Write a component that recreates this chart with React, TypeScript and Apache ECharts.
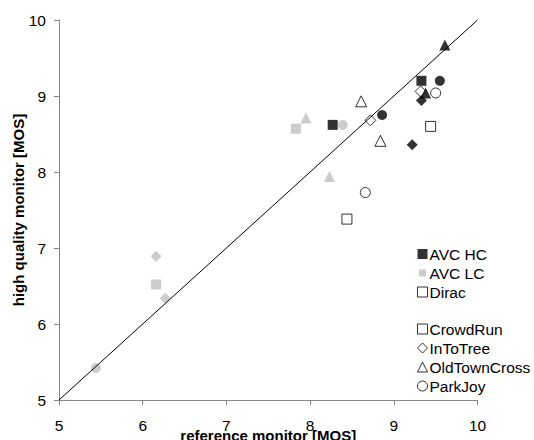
import React, { useEffect, useRef } from "react";
import * as echarts from "echarts";

const codecNames = ["AVC HC", "AVC LC", "Dirac"];
const sequenceNames = ["CrowdRun", "InToTree", "OldTownCross", "ParkJoy"];
const sequenceSymbols = ["rect", "diamond", "triangle", "circle"];

// sequence index of each point (two test points per sequence)
const pointSequence = [0, 0, 1, 1, 2, 2, 3, 3];

const avcHcX = [8.27, 9.33, 9.22, 9.33, 9.61, 9.38, 8.86, 9.55];
const avcHcY = [8.62, 9.2, 8.36, 8.94, 9.67, 9.04, 8.75, 9.2];

const avcLcX = [7.83, 6.16, 6.16, 6.27, 7.95, 8.23, 8.39, 5.44];
const avcLcY = [8.57, 6.52, 6.89, 6.34, 8.71, 7.94, 8.62, 5.42];

const diracX = [9.44, 8.44, 9.32, 8.72, 8.61, 8.84, 9.5, 8.66];
const diracY = [8.6, 7.38, 9.06, 8.68, 8.93, 8.41, 9.04, 7.73];

const diagonalX = [5, 10];
const diagonalY = [5, 10];

const FONT = "'Liberation Sans', Arial, sans-serif";

const codecStyles = [
  { color: "#000000", borderColor: "#000000", borderWidth: 0 },
  { color: "#BFBFBF", borderColor: "#BFBFBF", borderWidth: 0 },
  { color: "#FFFFFF", borderColor: "#000000", borderWidth: 1 },
];

// legend icons: the AVC LC key is drawn smaller, as in the source figure
const codecIcons = ["rect", "path://M0,0M10,10M1.5,1.5L8.5,1.5L8.5,8.5L1.5,8.5Z", "rect"];

const symbolSizes: Record<string, number> = {
  rect: 10,
  diamond: 11,
  triangle: 11,
  circle: 10,
};

function makePoints(xs: number[], ys: number[]) {
  return xs.map((x, i) => {
    const sym = sequenceSymbols[pointSequence[i]];
    return { value: [x, ys[i]], symbol: sym, symbolSize: symbolSizes[sym] };
  });
}

export default function App() {
  const ref = useRef<HTMLDivElement>(null);

  useEffect(() => {
    if (!ref.current) return;
    const chart = echarts.init(ref.current, null, { renderer: "svg" });
    const codecData = [
      makePoints(avcHcX, avcHcY),
      makePoints(avcLcX, avcLcY),
      makePoints(diracX, diracY),
    ];
    const drawOrder = [2, 1, 0];
    const codecSeries = drawOrder.map((ci, k) => ({
      type: "scatter",
      name: codecNames[ci],
      symbol: "rect",
      itemStyle: codecStyles[ci],
      data: codecData[ci],
      z: 2 + k,
      emphasis: { disabled: true },
    }));
    const seqSeries = sequenceNames.map((n, i) => ({
      type: "scatter",
      name: n,
      symbol: sequenceSymbols[i],
      itemStyle: { color: "#FFFFFF", borderColor: "#000000", borderWidth: 1 },
      data: [],
    }));
    const axisCommon = {
      type: "value",
      min: 5,
      max: 10,
      interval: 1,
      nameMoveOverlap: false,
      axisLine: { show: true, lineStyle: { color: "#868686", width: 1 } },
      axisTick: { show: true, inside: false, length: 5, lineStyle: { color: "#868686" } },
      splitLine: { show: false },
      nameTextStyle: { fontFamily: FONT, fontWeight: "bold", fontSize: 15, color: "#000" },
    };
    const legendText = {
      fontFamily: FONT,
      fontSize: 15.5,
      lineHeight: 16,
      color: "#000",
      padding: [0, 0, 0, -3],
    };
    chart.setOption({
      animation: false,
      backgroundColor: "#ffffff",
      grid: { left: 59, right: 56.5, top: 20, bottom: 40, outerBoundsMode: "none", containLabel: false },
      xAxis: {
        ...axisCommon,
        name: "reference monitor [MOS]",
        nameLocation: "middle",
        nameGap: 28,
        axisLabel: { fontFamily: FONT, fontSize: 15.5, color: "#000", margin: 17 },
      },
      yAxis: {
        ...axisCommon,
        name: "high quality monitor [MOS]",
        nameLocation: "middle",
        nameGap: 33,
        axisLabel: { fontFamily: FONT, fontSize: 15.5, color: "#000", margin: 13 },
      },
      legend: [
        {
          orient: "vertical",
          left: 417,
          top: 246,
          itemGap: 3,
          itemWidth: 10,
          itemHeight: 10,
          padding: 0,
          selectedMode: false,
          textStyle: legendText,
          data: codecNames.map((n, i) => ({
            name: n,
            icon: codecIcons[i],
            itemStyle: codecStyles[i],
          })),
        },
        {
          orient: "vertical",
          left: 417,
          top: 321,
          itemGap: 3,
          itemWidth: 10,
          itemHeight: 10,
          padding: 0,
          selectedMode: false,
          textStyle: legendText,
          data: sequenceNames.map((n, i) => ({
            name: n,
            icon: sequenceSymbols[i],
            itemStyle: { color: "#FFFFFF", borderColor: "#000000", borderWidth: 1 },
          })),
        },
      ],
      series: [
        ...codecSeries,
        ...seqSeries,
        {
          type: "line",
          name: "diagonal",
          data: diagonalX.map((x, i) => [x, diagonalY[i]]),
          symbol: "none",
          lineStyle: { color: "#000000", width: 1 },
          z: 10,
          silent: true,
        },
      ],
    });
    return () => chart.dispose();
  }, []);

  return (
    <div
      ref={ref}
      style={{ position: "fixed", left: 0, top: 0, width: 534, height: 440, background: "#fff" }}
    />
  );
}
